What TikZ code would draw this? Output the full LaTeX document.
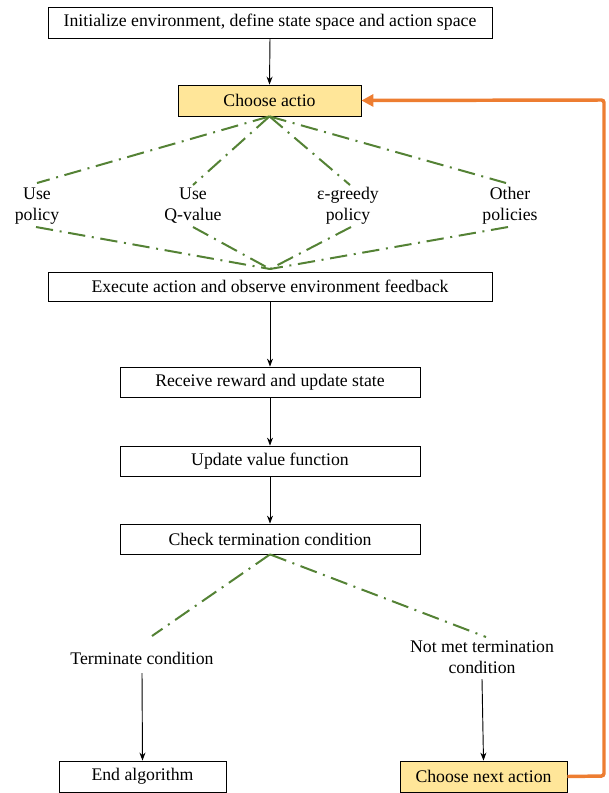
\documentclass[tikz,border=0pt]{standalone}
\usepackage{fontspec}
\setmainfont{Liberation Serif}
\usetikzlibrary{arrows.meta}
\definecolor{dgreen}{HTML}{548235}
\definecolor{orng}{HTML}{ED7D31}
\definecolor{yel}{HTML}{FFE699}
\begin{document}
\begin{tikzpicture}[x=0.75pt,y=-0.75pt,
  box/.style={draw=black, line width=0.6pt, rectangle, inner sep=0pt, font=\fontsize{13.3}{15}\selectfont},
  ybox/.style={box, fill=yel},
  lbl/.style={align=center, inner sep=0pt, font=\fontsize{13.3}{15.8}\selectfont},
  arr/.style={-{Stealth[length=6pt,width=4.5pt]}, line width=0.7pt},
  dd/.style={dgreen, line width=1.5pt, dash pattern=on 13pt off 5pt on 1.5pt off 5pt}]
\useasboundingbox (0,0) rectangle (609,793);
\node[box, minimum width=444*0.75pt, minimum height=31*0.75pt] (init) at (270,22.5) {Initialize environment, define state space and action space};
\node[ybox, minimum width=183*0.75pt, minimum height=31*0.75pt] (choose) at (269.5,100.5) {Choose actio};
\node[lbl] (l1) at (37,206) {Use\\policy};
\node[lbl] (l2) at (193,206) {Use\\Q-value};
\node[lbl] (l3) at (348,206) {ε-greedy\\policy};
\node[lbl] (l4) at (510,206) {Other\\policies};
\node[box, minimum width=444*0.75pt, minimum height=29*0.75pt] (exec) at (270,286.5) {Execute action and observe environment feedback};
\node[box, minimum width=300*0.75pt, minimum height=30*0.75pt] (recv) at (270,382) {Receive reward and update state};
\node[box, minimum width=300*0.75pt, minimum height=30*0.75pt] (upd) at (270,461) {Update value function};
\node[box, minimum width=300*0.75pt, minimum height=30*0.75pt] (check) at (270,539) {Check termination condition};
\node[lbl] (term) at (142,658) {Terminate condition};
\node[lbl] (notmet) at (482,657) {Not met termination\\condition};
\node[box, minimum width=167*0.75pt, minimum height=31*0.75pt] (endalg) at (142.5,776.5) {End algorithm};
\node[ybox, minimum width=167*0.75pt, minimum height=31*0.75pt] (next) at (483.5,776.5) {Choose next action};
% coordinates for dash-dot ends
\coordinate (t1) at (37,183);
\coordinate (t2) at (193,185);
\coordinate (t3) at (350,185);
\coordinate (t4) at (506,183);
\coordinate (b1) at (36,227);
\coordinate (b2) at (193,227);
\coordinate (b3) at (351,227);
\coordinate (b4) at (508,227);
\coordinate (conv) at (270,269);
\coordinate (c1) at (152,636);
\coordinate (c2) at (486,637);
\coordinate (ts) at (142,673);
\coordinate (ns) at (482,679);
\coordinate (o1) at (604,776);
\coordinate (o2) at (604,100);
% arrows
\draw[arr] (init.south) -- (choose.north);
\draw[arr] (exec.south) -- (recv.north);
\draw[arr] (recv.south) -- (upd.north);
\draw[arr] (upd.south) -- (check.north);
\draw[arr] (ts) -- (endalg.north);
\draw[arr] (ns) -- (next.north);
% dash-dot
\foreach \c in {t1,t2,t3,t4} \draw[dd] (choose.south) -- (\c);
\foreach \c in {b1,b2,b3,b4} \draw[dd] (\c) -- (conv);
\draw[dd] (check.south) -- (c1);
\draw[dd] (check.south) -- (c2);
% orange loop
\draw[orng, line width=2.6pt, rounded corners=2pt, -{Triangle[length=9pt,width=9pt]}] (next.east) -- (o1) -- (o2) -- (choose.east);
\end{tikzpicture}
\end{document}
